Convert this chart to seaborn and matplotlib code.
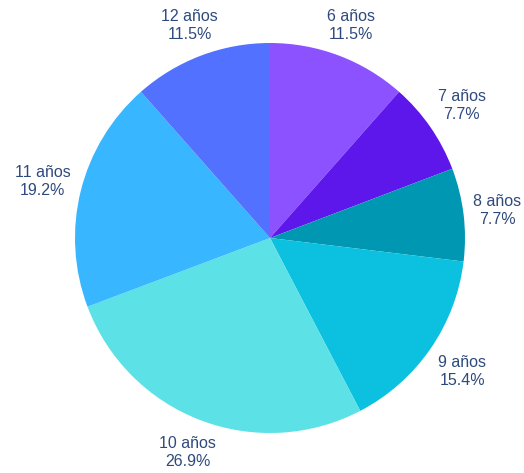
import numpy as np
import matplotlib
matplotlib.use("Agg")
import matplotlib.pyplot as plt
import seaborn as sns

sns.set_theme(style="white")
plt.rcParams["font.family"] = ["Liberation Sans", "DejaVu Sans"]

# Age groups and their shares (%)
categories = ["6 años", "7 años", "8 años", "9 años", "10 años", "11 años", "12 años"]
percentages = [11.5, 7.7, 7.7, 15.4, 26.9, 19.2, 11.5]
colors = ["#8C52FF", "#5E17EB", "#0097B2", "#0CC0DF", "#5CE1E6", "#38B6FF", "#5271FF"]

W, H = 524, 473
fig = plt.figure(figsize=(W / 100, H / 100), dpi=100)
ax = fig.add_axes([0, 0, 1, 1])

cx, cy, R = 270, H - 238, 195
wedges, _ = ax.pie(
    percentages,
    colors=colors,
    startangle=90,
    counterclock=False,
    center=(cx, cy),
    radius=R,
    wedgeprops=dict(linewidth=0),
)
ax.set_xlim(0, W)
ax.set_ylim(0, H)
ax.set_aspect("equal")
ax.axis("off")

# label placement: radius factor per slice, at the slice's mid angle
label_r = [1.167, 1.195, 1.175, 1.20, 1.18, 1.20, 1.167]
for w, cat, pct, rf in zip(wedges, categories, percentages, label_r):
    mid = np.deg2rad((w.theta1 + w.theta2) / 2)
    x = cx + rf * R * np.cos(mid)
    y = cy + rf * R * np.sin(mid)
    ax.text(x, y, f"{cat}\n{pct}%", ha="center", va="center",
            fontsize=11.5, color="#2E4A7D", linespacing=1.25)

fig.savefig("out.png", dpi=100)
